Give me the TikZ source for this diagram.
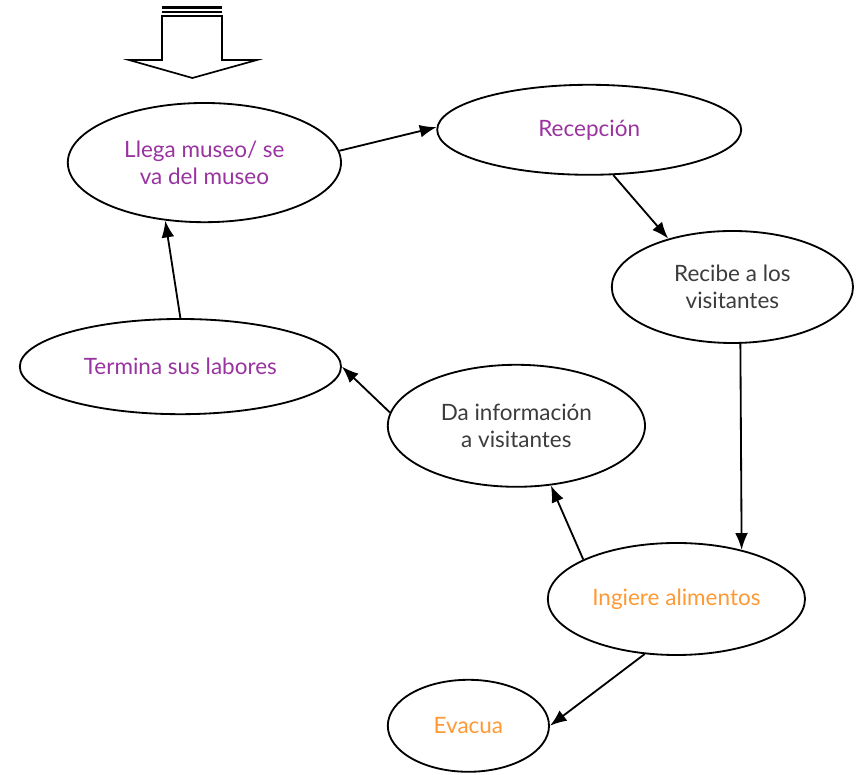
\documentclass[tikz,border=0pt]{standalone}
\usepackage{fontspec}
\setmainfont{Lato}
\usetikzlibrary{shapes.geometric,arrows.meta}
\definecolor{lila}{RGB}{153,51,160}
\definecolor{naranja}{RGB}{255,153,51}
\definecolor{gristxt}{RGB}{60,60,60}

\begin{document}
\begin{tikzpicture}[
    estado/.style={ellipse, draw, line width=1.3pt, inner sep=0pt, align=center,
      font=\fontsize{16}{19}\selectfont},
    flecha/.style={-{Latex[length=4.2mm,width=3.2mm]}, line width=1.3pt}]
  \useasboundingbox (0,0) rectangle (21.5,19.375);

  \node[estado, text=lila, minimum width=6.83cm, minimum height=2.98cm]
    (llega) at (5.11,15.31) {Llega museo/ se\\va del museo};
  \node[estado, text=lila, minimum width=7.6cm, minimum height=2.25cm]
    (recep) at (14.73,16.13) {Recepción};
  \node[estado, text=gristxt, minimum width=6.03cm, minimum height=2.8cm]
    (recibe) at (18.31,12.2) {Recibe a los\\visitantes};
  \node[estado, text=lila, minimum width=8.03cm, minimum height=2.38cm]
    (termina) at (4.51,10.21) {Termina sus labores};
  \node[estado, text=gristxt, minimum width=6.43cm, minimum height=3.05cm]
    (dainfo) at (12.91,8.73) {Da información\\a visitantes};
  \node[estado, text=naranja, minimum width=6.43cm, minimum height=2.8cm]
    (ingiere) at (16.91,4.4) {Ingiere alimentos};
  \node[estado, text=naranja, minimum width=4.03cm, minimum height=2.3cm]
    (evacua) at (11.71,1.23) {Evacua};

  \draw[line width=1.2pt, fill=white]
    (4.05,18.975) -- (4.05,17.875) -- (3.225,17.875) -- (4.81,17.425)
    -- (6.425,17.875) -- (5.55,17.875) -- (5.55,18.975) -- cycle;
  \draw[line width=2.2pt] (4.05,19.19) -- (5.55,19.19);
  \draw[line width=0.9pt] (4.05,19.075) -- (5.55,19.075);

  \draw[flecha] (llega.5) -- (recep.179);
  \draw[flecha] (recep.-62) -- (recibe.143);
  \draw[flecha] (recibe.-82) -- (ingiere.37.5);
  \draw[flecha] (ingiere.157) -- (dainfo.-60);
  \draw[flecha] (dainfo.174) -- (termina.0);
  \draw[flecha] (termina.90) -- (llega.236);
  \draw[flecha] (ingiere.240) -- (evacua.0);
\end{tikzpicture}
\end{document}
